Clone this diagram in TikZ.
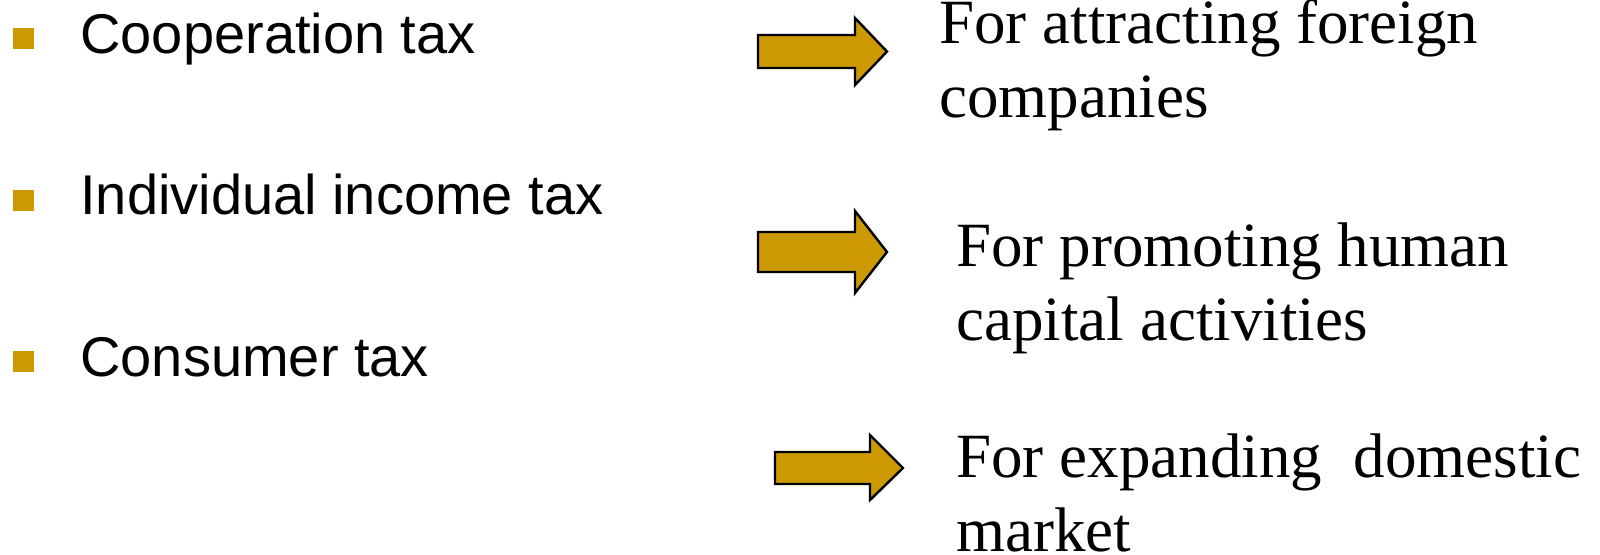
\documentclass[tikz,border=0pt]{standalone}
\usepackage{fontspec}
\setmainfont{Liberation Serif}
\newfontfamily\arialfont{Liberation Sans}
\definecolor{gold}{HTML}{CC9900}
\tikzset{
  bulletsq/.style={rectangle, fill=gold, inner sep=0pt, minimum size=10.5pt},
  fatarrow/.style={fill=gold, draw=black, line width=1.2pt, line join=miter},
  taxtext/.style={anchor=base west, inner sep=0pt, font=\arialfont\fontsize{28}{34}\selectfont},
  goaltext/.style={anchor=base west, inner sep=0pt, align=left, font=\fontsize{31.5}{37}\selectfont}
}

\begin{document}
\begin{tikzpicture}[x=0.5pt,y=-0.5pt]
\useasboundingbox (0,0) rectangle (1600,554);
% left column: taxes
\node[bulletsq] (b1) at (23.5,38.5) {};
\node[taxtext] (corp) at (80,53) {Cooperation tax};
\node[bulletsq] (b2) at (23.5,200.5) {};
\node[taxtext] (indiv) at (80,214) {Individual income tax};
\node[bulletsq] (b3) at (23.5,361.5) {};
\node[taxtext] (cons) at (80,376) {Consumer tax};

% block arrows
\draw[fatarrow] (758,35) -- (855,35) -- (855,18) -- (887,51.5) -- (855,85) -- (855,68) -- (758,68) -- cycle;
\draw[fatarrow] (758,232) -- (855,232) -- (855,211) -- (887,252) -- (855,293) -- (855,272) -- (758,272) -- cycle;
\draw[fatarrow] (775,452) -- (870,452) -- (870,435) -- (903,468) -- (870,500) -- (870,484) -- (775,484) -- cycle;

% right column: goals (base = last line)
\node[goaltext] (foreign) at (939,117) {For attracting foreign\\companies};
\node[goaltext] (human) at (956,340) {For promoting human\\capital activities};
\node[goaltext] (market) at (956,551) {For expanding\ \ domestic\\market};
\end{tikzpicture}
\end{document}
